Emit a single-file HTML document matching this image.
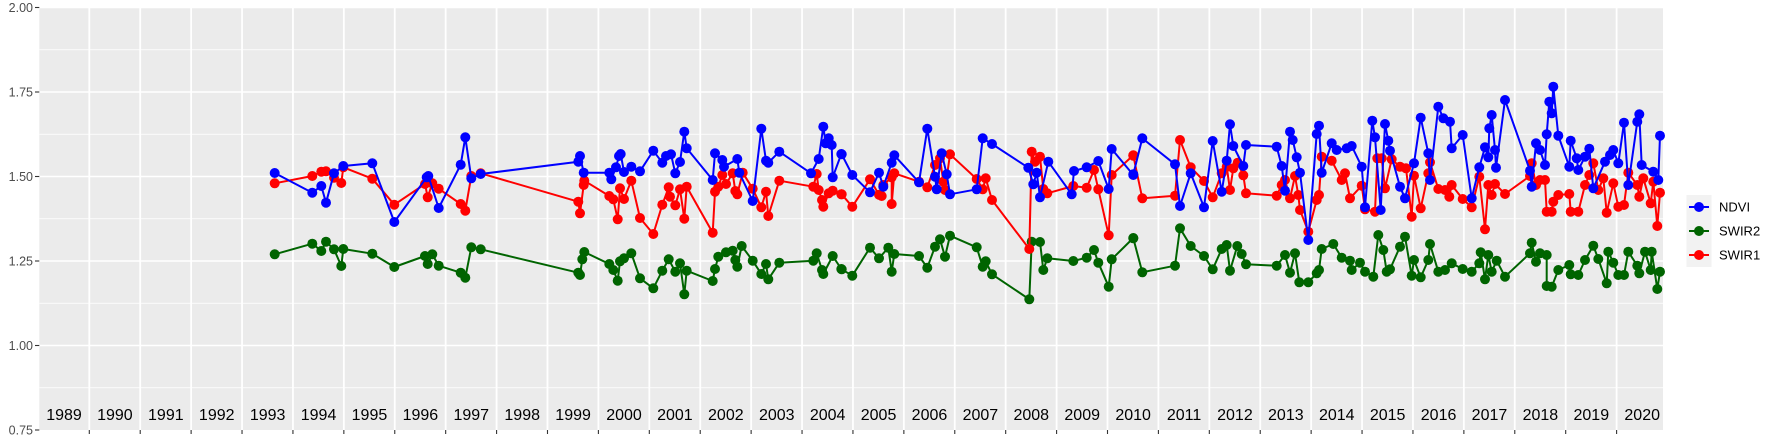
<!DOCTYPE html>
<html><head><meta charset="utf-8"><style>
body{margin:0;background:#fff;}
svg{display:block;font-family:"Liberation Sans",sans-serif;}
</style></head><body>
<svg id="s" width="1773" height="442" xmlns="http://www.w3.org/2000/svg">
<rect x="39.3" y="7.5" width="1623.7" height="422.5" fill="#ebebeb"/>
<g id="grid"></g>
<g id="data"></g>
<g font-size="12.5" fill="#4d4d4d" text-anchor="end">
<text x="33" y="12">2.00</text><text x="33" y="96.5">1.75</text><text x="33" y="181">1.50</text><text x="33" y="265.5">1.25</text><text x="33" y="350">1.00</text><text x="33" y="434.5">0.75</text>
</g>
<g id="yl" font-size="16" fill="#000" text-anchor="middle"></g>
<rect x="1686.5" y="195" width="25" height="72" fill="#f2f2f2"/>
<g stroke-width="2"><line x1="1689" x2="1709" y1="207" y2="207" stroke="#0000ff"/><line x1="1689" x2="1709" y1="231" y2="231" stroke="#006400"/><line x1="1689" x2="1709" y1="255" y2="255" stroke="#ff0000"/></g>
<circle cx="1699" cy="207" r="5" fill="#0000ff"/><circle cx="1699" cy="231" r="5" fill="#006400"/><circle cx="1699" cy="255" r="5" fill="#ff0000"/>
<g font-size="13" fill="#000"><text x="1719" y="211.5">NDVI</text><text x="1719" y="235.5">SWIR2</text><text x="1719" y="259.5">SWIR1</text></g>
</svg>
<script>
var NS="http://www.w3.org/2000/svg";
function el(p,t,a){var e=document.createElementNS(NS,t);for(var k in a)e.setAttribute(k,a[k]);p.appendChild(e);return e;}
var g=document.getElementById('grid');
[0.875,1.125,1.375,1.625,1.875].forEach(function(v){var y=7.5+(2-v)/0.25*84.5;el(g,'line',{x1:39.3,x2:1663,y1:y,y2:y,stroke:'#fff','stroke-width':0.8});});
[1,1.25,1.5,1.75,2].forEach(function(v){var y=7.5+(2-v)/0.25*84.5;el(g,'line',{x1:39.3,x2:1663,y1:y,y2:y,stroke:'#fff','stroke-width':1.6});});
[0.75,1,1.25,1.5,1.75,2].forEach(function(v){var y=7.5+(2-v)/0.25*84.5;el(g,'line',{x1:35,x2:39.3,y1:y,y2:y,stroke:'#333','stroke-width':1.1});});
var yl=document.getElementById('yl');
for(var k=0;k<31;k++){var x=89.3+50.91*k;el(g,'line',{x1:x,x2:x,y1:7.5,y2:430,stroke:'#fff','stroke-width':1.8});el(g,'line',{x1:x,x2:x,y1:430,y2:434,stroke:'#333','stroke-width':1.1});}
for(var k=0;k<32;k++){var t=el(yl,'text',{x:64+50.91*k,y:420});t.textContent=String(1989+k);}
var Z=[
{o:[260,90],b:[[44,249],[157,308],[184,288],[198,338],[222,250],[250,228],[337,220],[403,396],[500,262],[505,258],[536,354],[602,224],[616,142],[634,265],[662,252]],
 r:[[44,280],[157,258],[184,245],[198,244],[222,263],[244,279],[250,232],[337,266],[403,344],[495,282],[503,322],[517,280],[536,296],[602,342],[616,362],[634,258],[662,250]],
 g:[[44,493],[157,461],[184,483],[198,455],[222,478],[244,528],[250,477],[337,491],[403,531],[495,498],[503,522],[517,493],[536,527],[602,548],[616,563],[634,472],[662,478]]},
{o:[550,90],b:[[85,215],[90,198],[101,248],[178,248],[184,268],[198,232],[207,198],[212,192],[222,246],[244,230],[270,244],[310,182],[337,218],[348,198],[363,193],[376,250],[390,216],[403,125],[410,175],[488,270],[495,190],[517,210],[522,230],[562,207],[568,248],[608,333],[634,116],[648,212],[655,218],[688,185],[783,250],[806,207],[820,110],[827,160],[836,145],[845,165],[848,262],[874,192]],
 r:[[85,335],[90,370],[101,285],[103,272],[178,318],[190,328],[203,388],[210,295],[222,327],[244,272],[270,384],[310,432],[337,344],[356,292],[360,320],[376,346],[390,298],[403,386],[410,290],[488,428],[495,305],[505,290],[517,255],[528,282],[548,250],[556,303],[562,313],[578,248],[608,296],[634,352],[648,305],[655,378],[688,272],[790,290],[800,252],[806,300],[816,330],[820,350],[836,310],[848,302],[874,313]],
 g:[[85,548],[90,555],[97,508],[103,486],[178,522],[190,540],[203,572],[210,514],[222,505],[244,490],[270,565],[310,595],[337,542],[356,508],[376,545],[390,520],[403,613],[410,542],[488,573],[495,537],[505,500],[528,487],[548,482],[556,510],[562,530],[575,468],[608,512],[634,552],[648,522],[655,568],[688,518],[790,512],[800,490],[816,540],[820,552],[848,498],[874,537]]},
{o:[840,90],b:[[5,193],[37,255],[90,307],[117,248],[130,290],[155,218],[163,196],[237,277],[262,116],[285,260],[290,298],[305,190],[320,253],[330,313],[410,298],[428,145],[456,162],[565,233],[580,283],[590,248],[600,322],[625,215],[695,313],[702,243],[740,232],[775,213],[806,297],[815,177],[880,255]],
 r:[[5,313],[37,350],[90,268],[117,314],[125,318],[130,285],[155,262],[155,342],[163,250],[237,275],[262,292],[285,225],[300,205],[310,275],[315,300],[330,193],[410,267],[428,298],[437,265],[456,330],[568,477],[575,185],[585,215],[600,200],[610,297],[622,310],[700,288],[740,293],[762,240],[775,298],[806,436],[815,255],[880,196]],
 g:[[5,538],[37,557],[90,473],[117,505],[145,473],[155,545],[163,492],[237,498],[262,533],[285,470],[300,448],[315,500],[330,437],[410,472],[428,530],[437,514],[456,553],[568,628],[575,455],[600,456],[610,540],[622,505],[700,513],[740,503],[762,480],[775,518],[806,590],[815,508],[880,444]]},
{o:[1130,70],b:[[10,313],[37,205],[135,283],[150,408],[182,310],[222,412],[248,213],[275,365],[290,272],[300,163],[310,228],[340,288],[348,225],[440,230],[455,288],[465,362],[480,185],[488,210],[500,262],[510,308],[535,510],[560,192],[567,167],[575,308],[605,220],[620,240],[650,235],[665,228],[695,290],[705,412],[727,152],[735,202],[752,420],[765,162],[775,212],[780,242]],
 r:[[10,257],[37,385],[135,377],[150,210],[182,292],[222,333],[248,382],[275,310],[290,290],[300,360],[310,295],[323,278],[340,316],[348,370],[440,377],[455,345],[465,330],[480,385],[495,318],[505,375],[510,420],[535,485],[560,390],[567,375],[575,260],[605,272],[635,330],[645,310],[660,385],[695,347],[705,418],[735,425],[742,265],[755,265],[765,355],[785,268]],
 g:[[10,505],[37,607],[135,587],[150,475],[182,528],[222,558],[248,598],[275,537],[290,525],[300,602],[322,528],[335,552],[348,583],[440,587],[465,555],[480,608],[495,550],[508,637],[535,637],[560,610],[567,600],[575,537],[610,522],[635,563],[660,572],[665,600],[690,578],[705,605],[730,620],[745,495],[760,540],[770,605],[780,598]]},
{o:[1400,70],b:[[0,350],[15,385],[42,280],[62,143],[85,250],[90,330],[115,110],[130,145],[150,155],[155,235],[188,195],[215,385],[238,292],[255,232],[265,262],[268,175],[275,135],[285,240],[288,293],[315,90],[390,302],[395,350],[408,220],[420,240],[435,285],[440,193],[448,95],[455,130],[460,50],[475,197],[508,290],[512,212],[530,265],[535,300],[555,260],[568,236],[580,355],[615,275],[630,255],[640,240],[655,280],[672,158],[685,345],[712,155],[718,133],[725,285],[760,305],[775,330],[780,197]],
 r:[[0,290],[18,295],[35,440],[42,317],[62,415],[85,310],[90,277],[115,357],[135,360],[148,380],[155,345],[188,387],[215,412],[238,320],[255,478],[265,345],[275,375],[285,342],[315,372],[390,318],[395,280],[408,345],[420,330],[435,330],[440,425],[455,425],[460,395],[475,375],[508,372],[512,425],[535,425],[555,345],[568,315],[580,280],[595,360],[610,325],[620,428],[640,340],[655,410],[672,405],[685,308],[712,345],[718,380],[730,325],[752,400],[760,335],[772,468],[780,368]],
 g:[[0,530],[15,500],[35,617],[42,570],[62,622],[85,570],[90,522],[115,605],[135,600],[155,580],[188,597],[215,605],[238,580],[242,547],[255,628],[265,555],[275,605],[290,572],[315,620],[390,550],[395,518],[408,575],[420,550],[440,555],[440,648],[455,650],[475,600],[508,585],[512,613],[535,615],[555,570],[580,527],[595,567],[620,640],[625,545],[640,578],[655,615],[672,615],[685,545],[712,587],[718,610],[735,545],[752,600],[755,545],[772,657],[780,605]]}
];
var cols={g:'#006400',r:'#ff0000',b:'#0000ff'};
var d=document.getElementById('data');
['g','r','b'].forEach(function(s){
  var pts=[];
  Z.forEach(function(z){z[s].forEach(function(p){pts.push([z.o[0]+p[0]/3,z.o[1]+p[1]/3]);});});
  el(d,'polyline',{points:pts.map(function(p){return p[0].toFixed(1)+','+p[1].toFixed(1)}).join(' '),fill:'none',stroke:cols[s],'stroke-width':2,'stroke-linejoin':'round'});
  pts.forEach(function(p){el(d,'circle',{cx:p[0].toFixed(1),cy:p[1].toFixed(1),r:5,fill:cols[s]});});
});
</script>
</body></html>
